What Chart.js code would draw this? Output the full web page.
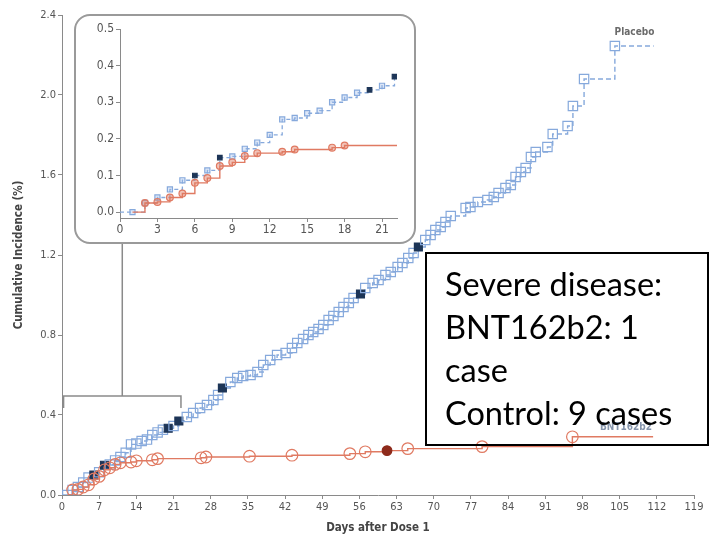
<!DOCTYPE html>
<html>
<head>
<meta charset="utf-8">
<script src="https://cdn.jsdelivr.net/npm/chart.js@4/dist/chart.umd.min.js"></script>
<style>
  html, body { margin: 0; padding: 0; background: #fff; }
  #wrap { position: relative; width: 709px; height: 542px; overflow: hidden; }
  #main { position: absolute; left: 0; top: 0; }
  #insetBox { position: absolute; left: 74px; top: 14px; width: 342px; height: 230px; box-sizing: border-box;
              border: 2px solid #9a9a9a; border-radius: 16px; background: #fff; overflow: hidden; }
  #inset { position: absolute; left: -1px; top: -1px; }
  #note { position: absolute; left: 425px; top: 252px; width: 284px; height: 194px; box-sizing: border-box;
          border: 2px solid #000; padding: 8px 0 0 18px; font-family: Lato, "Liberation Sans", sans-serif;
          font-size: 32.5px; line-height: 43px; color: #000; white-space: nowrap; }
</style>
</head>
<body>
<div id="wrap">
  <canvas id="main" width="709" height="542"></canvas>
  <div id="insetBox"><canvas id="inset" width="340" height="228"></canvas></div>
  <div id="note">Severe disease:<br>BNT162b2: 1<br>case<br>Control: 9 cases</div>
</div>
<script>
// ---- data ----
const xTicksMain = [0, 7, 14, 21, 28, 35, 42, 49, 56, 63, 70, 77, 84, 91, 98, 105, 112, 119];
const yTicksMain = [0.0, 0.4, 0.8, 1.2, 1.6, 2.0, 2.4];
const xTicksInset = [0, 3, 6, 9, 12, 15, 18, 21];
const yTicksInset = [0.0, 0.1, 0.2, 0.3, 0.4, 0.5];

const placeboDays = [0, 1, 2, 3, 4, 5, 6, 7, 8, 9, 10, 11, 12, 13, 14, 15, 16, 17, 18, 19, 20, 21, 22,
  23.5, 24.7, 26, 27.3, 28.5, 29.4, 30.2, 31.7, 33, 34.1, 35.5, 36.8, 37.9, 39.2, 40.5, 42.1, 43.3, 44.3,
  45.4, 46.4, 47.3, 48.3, 49.2, 50.2, 51.1, 52.1, 53, 54, 54.9, 56.2, 57.1, 58.5, 59.6, 60.9, 61.9, 63.2,
  64.1, 65.2, 66.2, 67.1, 68.4, 69.4, 70.3, 71.3, 72.2, 73.2, 76, 76.9, 78.3, 80.1, 81.3, 82.2, 83.5, 84.5,
  85.4, 86.4, 87.3, 88.3, 89.2, 91.4, 92.4, 95.2, 96.2, 98.3, 104.1, 111.4];
const placeboPct = [0, 0, 0.025, 0.04, 0.062, 0.087, 0.1, 0.114, 0.149, 0.152, 0.173, 0.19, 0.211, 0.253, 0.257, 0.27, 0.277, 0.3, 0.313, 0.326, 0.334, 0.345, 0.37,
  0.39, 0.41, 0.435, 0.45, 0.475, 0.5, 0.535, 0.565, 0.585, 0.595, 0.6, 0.615, 0.65, 0.675, 0.7, 0.71, 0.735, 0.76,
  0.78, 0.8, 0.815, 0.83, 0.85, 0.875, 0.895, 0.915, 0.94, 0.96, 0.985, 1.005, 1.035, 1.06, 1.075, 1.1, 1.115, 1.14,
  1.16, 1.185, 1.21, 1.24, 1.275, 1.3, 1.325, 1.34, 1.365, 1.395, 1.435, 1.44, 1.465, 1.475, 1.49, 1.51, 1.535, 1.55,
  1.59, 1.615, 1.635, 1.69, 1.715, 1.74, 1.805, 1.845, 1.945, 2.08, 2.245, 2.245];
const placeboSevereDays = [6, 8, 20, 22, 30.2, 56.2, 67.1];

const bntDays = [1, 2, 3, 4, 5, 6, 7, 8, 9, 10, 11, 13, 14, 17, 18, 26.2, 27.1, 35.3, 43.3, 54.2, 57.1, 61.2, 65.1, 79.1, 96.1, 111.3];
const bntPct = [0, 0.025, 0.028, 0.04, 0.051, 0.08, 0.093, 0.126, 0.136, 0.153, 0.161, 0.165, 0.171, 0.176, 0.182, 0.186, 0.19, 0.194, 0.199, 0.207, 0.216, 0.222, 0.232, 0.242, 0.291, 0.291];
const bntSevereDays = [61.2];

const seriesNames = ['Placebo', 'BNT162b2'];
const xTitle = 'Days after Dose 1';
const yTitle = 'Cumulative Incidence (%)';

// ---- styling ----
const BLUE = '#86a9dc', NAVY = '#1d3557', RED = '#e07a62', DARKRED = '#8e2b1c';
const toPts = (d, v) => d.map((x, i) => ({ x: x, y: v[i] }));
const isEnd = (ctx) => ctx.dataIndex === 0 || ctx.dataIndex === ctx.dataset.data.length - 1;

function makeSets(r1, r2, rSev, insetMode) {
  return [
    {
      label: seriesNames[0], data: toPts(placeboDays, placeboPct), stepped: true,
      borderColor: BLUE, borderWidth: insetMode ? 1.3 : 1.4, borderDash: insetMode ? [4, 3] : [5, 3],
      pointStyle: 'rect',
      pointRadius: (c) => isEnd(c) ? 0 : (placeboSevereDays.includes(placeboDays[c.dataIndex]) ? rSev : r1),
      pointBorderWidth: insetMode ? 1.2 : 1.2,
      pointBorderColor: (c) => placeboSevereDays.includes(placeboDays[c.dataIndex]) ? NAVY : BLUE,
      pointBackgroundColor: (c) => placeboSevereDays.includes(placeboDays[c.dataIndex]) ? NAVY : (insetMode ? 'rgba(160,190,235,0.35)' : 'rgba(255,255,255,0)'),
      order: 2
    },
    {
      label: seriesNames[1], data: toPts(bntDays, bntPct), stepped: true,
      borderColor: RED, borderWidth: 1.4,
      pointStyle: 'circle',
      pointRadius: (c) => isEnd(c) ? 0 : (bntSevereDays.includes(bntDays[c.dataIndex]) ? r2 - 1 : r2),
      pointBorderWidth: 1.2,
      pointBorderColor: (c) => bntSevereDays.includes(bntDays[c.dataIndex]) ? DARKRED : RED,
      pointBackgroundColor: (c) => bntSevereDays.includes(bntDays[c.dataIndex]) ? DARKRED : (insetMode ? 'rgba(224,122,98,0.45)' : 'rgba(255,255,255,0)'),
      order: 1
    }
  ];
}

const tickFont = { family: '"Liberation Sans Narrow", "DejaVu Sans Condensed", sans-serif', size: 11 };
const insetTickFont = { family: '"Liberation Sans Narrow", "DejaVu Sans Condensed", sans-serif', size: 12 };
const gridOpts = { display: true, drawOnChartArea: false, drawTicks: true, tickLength: 4, color: '#8a8a8a', lineWidth: 1 };
const borderOpts = { display: true, color: '#8a8a8a', width: 1 };

const annotate = {
  id: 'annotate',
  afterDraw(chart) {
    const c = chart.ctx, xs = chart.scales.x, ys = chart.scales.y;
    c.save();
    // bracket linking the zoomed range (days 0-22) to the inset
    const xl = xs.getPixelForValue(0.3), xr = xs.getPixelForValue(22.4), yb = ys.getPixelForValue(0.495);
    const xm = (xl + xr) / 2;
    c.strokeStyle = '#8a8a8a'; c.lineWidth = 1.5;
    c.beginPath();
    c.moveTo(xl, yb + 12); c.lineTo(xl, yb); c.lineTo(xr, yb); c.lineTo(xr, yb + 12);
    c.moveTo(xm, yb); c.lineTo(xm, 243);
    c.stroke();
    // series labels
    c.font = 'bold 10px "Liberation Sans Narrow", "DejaVu Sans Condensed", sans-serif';
    c.textAlign = 'center'; c.textBaseline = 'middle';
    c.fillStyle = '#6b6b6b';
    c.fillText(seriesNames[0], xs.getPixelForValue(107.8), ys.getPixelForValue(2.315));
    c.fillStyle = '#8594ab';
    c.fillText(seriesNames[1], xs.getPixelForValue(106.2), ys.getPixelForValue(0.34));
    c.restore();
  }
};

new Chart(document.getElementById('main'), {
  type: 'line',
  data: { datasets: makeSets(6.6, 5.8, 5.6, false) },
  options: {
    responsive: false, animation: false, events: [],
    layout: { padding: { left: 0, right: 15, top: 15, bottom: 0 } },
    plugins: { legend: { display: false }, tooltip: { enabled: false } },
    scales: {
      x: {
        type: 'linear', min: 0, max: 119,
        afterBuildTicks: (s) => { s.ticks = xTicksMain.map(v => ({ value: v })); },
        afterFit: (s) => { s.height = 47; },
        ticks: { font: tickFont, color: '#555', padding: 2, maxRotation: 0, autoSkip: false, callback: (v) => String(v) },
        grid: gridOpts, border: borderOpts,
        title: { display: true, text: xTitle, color: '#444', font: { family: '"Liberation Sans Narrow", "DejaVu Sans Condensed", sans-serif', size: 11.5, weight: 'bold' }, padding: { top: 0, bottom: 7 } }
      },
      y: {
        type: 'linear', min: 0, max: 2.4,
        afterBuildTicks: (s) => { s.ticks = yTicksMain.map(v => ({ value: v })); },
        afterFit: (s) => { s.width = 62; },
        ticks: { font: tickFont, color: '#555', padding: 2, callback: (v) => Number(v).toFixed(1) },
        grid: gridOpts, border: borderOpts,
        title: { display: true, text: yTitle, color: '#444', font: { family: '"Liberation Sans Narrow", "DejaVu Sans Condensed", sans-serif', size: 11.5, weight: 'bold' }, padding: { top: 12, bottom: 0 } }
      }
    }
  },
  plugins: [annotate]
});

new Chart(document.getElementById('inset'), {
  type: 'line',
  data: { datasets: makeSets(3.6, 3.4, 3.2, true) },
  options: {
    responsive: false, animation: false, events: [],
    layout: { padding: { left: 0, right: 18, top: 14, bottom: 0 } },
    plugins: { legend: { display: false }, tooltip: { enabled: false } },
    scales: {
      x: {
        type: 'linear', min: 0, max: 22.2,
        afterBuildTicks: (s) => { s.ticks = xTicksInset.map(v => ({ value: v })); },
        afterFit: (s) => { s.height = 25; },
        ticks: { font: insetTickFont, color: '#555', padding: 1, maxRotation: 0, autoSkip: false, callback: (v) => String(v) },
        grid: gridOpts, border: borderOpts
      },
      y: {
        type: 'linear', min: -0.016, max: 0.5,
        afterBuildTicks: (s) => { s.ticks = yTicksInset.map(v => ({ value: v })); },
        afterFit: (s) => { s.width = 45; },
        ticks: { font: insetTickFont, color: '#555', padding: 2, callback: (v) => Number(v).toFixed(1) },
        grid: gridOpts, border: borderOpts
      }
    }
  }
});
</script>
</body>
</html>
